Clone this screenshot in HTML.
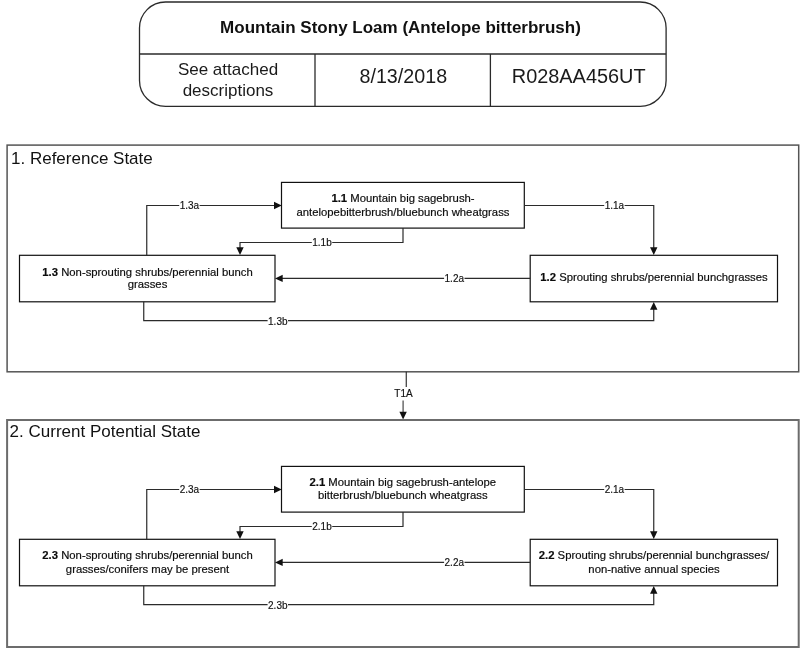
<!DOCTYPE html>
<html><head><meta charset="utf-8"><title>Mountain Stony Loam</title>
<style>
html,body{margin:0;padding:0;background:#fff;}
body{width:800px;height:648px;overflow:hidden;position:relative;}
svg{position:absolute;left:0;top:0;display:block;will-change:transform;}
text{font-family:"Liberation Sans", sans-serif;fill:#1a1a1a;}
.t{font-size:11.3px;text-anchor:middle;fill:#0c0c0c;stroke:#0c0c0c;stroke-width:0.18px;}
.l{font-size:10px;text-anchor:middle;fill:#111;stroke:#111;stroke-width:0.15px;}
.s{font-size:17px;fill:#111;}
.b{font-weight:bold;}
</style></head><body>
<svg width="800" height="648" viewBox="0 0 800 648">
<rect x="0" y="0" width="800" height="648" fill="#ffffff"/>
<g fill="none" stroke="#2a2a2a" stroke-width="1.3">
<rect x="139.5" y="2" width="526.6" height="104.4" rx="26" ry="26" fill="#fff"/>
<line x1="139.5" y1="54" x2="666.1" y2="54"/>
<line x1="315" y1="54" x2="315" y2="106.4"/>
<line x1="490.4" y1="54" x2="490.4" y2="106.4"/>
</g>
<text x="400.5" y="32.5" text-anchor="middle" class="b" style="font-size:17px;fill:#111">Mountain Stony Loam (Antelope bitterbrush)</text>
<text x="228" y="75.2" text-anchor="middle" style="font-size:17px">See attached</text>
<text x="228" y="95.5" text-anchor="middle" style="font-size:17px">descriptions</text>
<text x="403.3" y="82.7" text-anchor="middle" style="font-size:19.7px">8/13/2018</text>
<text x="578.7" y="82.7" text-anchor="middle" style="font-size:19.9px">R028AA456UT</text>
<rect x="7.1" y="145.1" width="791.6" height="226.70000000000002" fill="none" stroke="#555" stroke-width="1.5"/>
<text x="11" y="163.5" class="s">1. Reference State</text>
<g fill="#fff" stroke="#111" stroke-width="1.2">
<rect x="19.5" y="255.3" width="255.5" height="46.5"/>
<rect x="281.5" y="182.4" width="242.8" height="45.7"/>
<rect x="530.2" y="255.3" width="247.3" height="46.5"/>
</g>
<g fill="none" stroke="#2b2b2b" stroke-width="1.2">
<polyline points="146.75,255 146.75,205.5 275,205.5"/>
<polyline points="524.25,205.5 653.75,205.5 653.75,249"/>
<polyline points="403,228 403,242.5 240,242.5 240,249"/>
<line x1="530.2" y1="278.3" x2="282" y2="278.3"/>
<polyline points="143.75,301.8 143.75,320.7 653.75,320.7 653.75,308"/>
</g>
<polygon points="281.7,205.5 274.0,201.8 274.0,209.2" fill="#111"/>
<polygon points="653.75,255 650.05,247.3 657.45,247.3" fill="#111"/>
<polygon points="240,255 236.3,247.3 243.7,247.3" fill="#111"/>
<polygon points="275.0,278.4 282.7,274.7 282.7,282.09999999999997" fill="#111"/>
<polygon points="653.75,302 650.05,309.7 657.45,309.7" fill="#111"/>
<rect x="179.20000000000002" y="202.5" width="20.4" height="6" fill="#fff"/>
<text x="189.4" y="208.75" class="l">1.3a</text>
<rect x="604.1999999999999" y="202.5" width="20.4" height="6" fill="#fff"/>
<text x="614.4" y="208.8" class="l">1.1a</text>
<rect x="311.8" y="239.5" width="20.4" height="6" fill="#fff"/>
<text x="322" y="245.7" class="l">1.1b</text>
<rect x="444.1" y="275.4" width="20.4" height="6" fill="#fff"/>
<text x="454.3" y="281.6" class="l">1.2a</text>
<rect x="267.6" y="317.7" width="20.4" height="6" fill="#fff"/>
<text x="277.8" y="325.4" class="l">1.3b</text>
<text x="403" y="201.75" class="t"><tspan class="b">1.1</tspan> Mountain big sagebrush-</text>
<text x="403" y="215.75" class="t">antelopebitterbrush/bluebunch wheatgrass</text>
<text x="654" y="281.25" class="t"><tspan class="b">1.2</tspan> Sprouting shrubs/perennial bunchgrasses</text>
<text x="147.5" y="275.6" class="t"><tspan class="b">1.3</tspan> Non-sprouting shrubs/perennial bunch</text>
<text x="147.5" y="288.1" class="t">grasses</text>
<line x1="406.25" y1="371.8" x2="406.25" y2="387" stroke="#222" stroke-width="1.1"/>
<line x1="403.1" y1="400.6" x2="403.1" y2="413" stroke="#555" stroke-width="1.3"/>
<polygon points="403.1,419.4 399.40000000000003,411.7 406.8,411.7" fill="#111"/>
<text x="403.5" y="397" class="l">T1A</text>
<rect x="7.1" y="420" width="791.6" height="227" fill="none" stroke="#6c6c6c" stroke-width="2"/>
<text x="9.6" y="437.4" class="s">2. Current Potential State</text>
<g fill="#fff" stroke="#111" stroke-width="1.2">
<rect x="19.5" y="539.3" width="255.5" height="46.5"/>
<rect x="281.5" y="466.4" width="242.8" height="45.7"/>
<rect x="530.2" y="539.3" width="247.3" height="46.5"/>
</g>
<g fill="none" stroke="#2b2b2b" stroke-width="1.2">
<polyline points="146.75,539 146.75,489.5 275,489.5"/>
<polyline points="524.25,489.5 653.75,489.5 653.75,533"/>
<polyline points="403,512 403,526.5 240,526.5 240,533"/>
<line x1="530.2" y1="562.3" x2="282" y2="562.3"/>
<polyline points="143.75,585.8 143.75,604.7 653.75,604.7 653.75,592"/>
</g>
<polygon points="281.7,489.5 274.0,485.8 274.0,493.2" fill="#111"/>
<polygon points="653.75,539 650.05,531.3 657.45,531.3" fill="#111"/>
<polygon points="240,539 236.3,531.3 243.7,531.3" fill="#111"/>
<polygon points="275.0,562.4 282.7,558.6999999999999 282.7,566.1" fill="#111"/>
<polygon points="653.75,586 650.05,593.7 657.45,593.7" fill="#111"/>
<rect x="179.20000000000002" y="486.5" width="20.4" height="6" fill="#fff"/>
<text x="189.4" y="492.75" class="l">2.3a</text>
<rect x="604.1999999999999" y="486.5" width="20.4" height="6" fill="#fff"/>
<text x="614.4" y="492.8" class="l">2.1a</text>
<rect x="311.8" y="523.5" width="20.4" height="6" fill="#fff"/>
<text x="322" y="529.7" class="l">2.1b</text>
<rect x="444.1" y="559.4" width="20.4" height="6" fill="#fff"/>
<text x="454.3" y="565.6" class="l">2.2a</text>
<rect x="267.6" y="601.7" width="20.4" height="6" fill="#fff"/>
<text x="277.8" y="609.4" class="l">2.3b</text>
<text x="402.75" y="485.7" class="t"><tspan class="b">2.1</tspan> Mountain big sagebrush-antelope</text>
<text x="402.75" y="499.45" class="t">bitterbrush/bluebunch wheatgrass</text>
<text x="654" y="558.75" class="t"><tspan class="b">2.2</tspan> Sprouting shrubs/perennial bunchgrasses/</text>
<text x="654" y="572.5" class="t">non-native annual species</text>
<text x="147.5" y="559.25" class="t"><tspan class="b">2.3</tspan> Non-sprouting shrubs/perennial bunch</text>
<text x="147.5" y="572.5" class="t">grasses/conifers may be present</text>
</svg></body></html>
